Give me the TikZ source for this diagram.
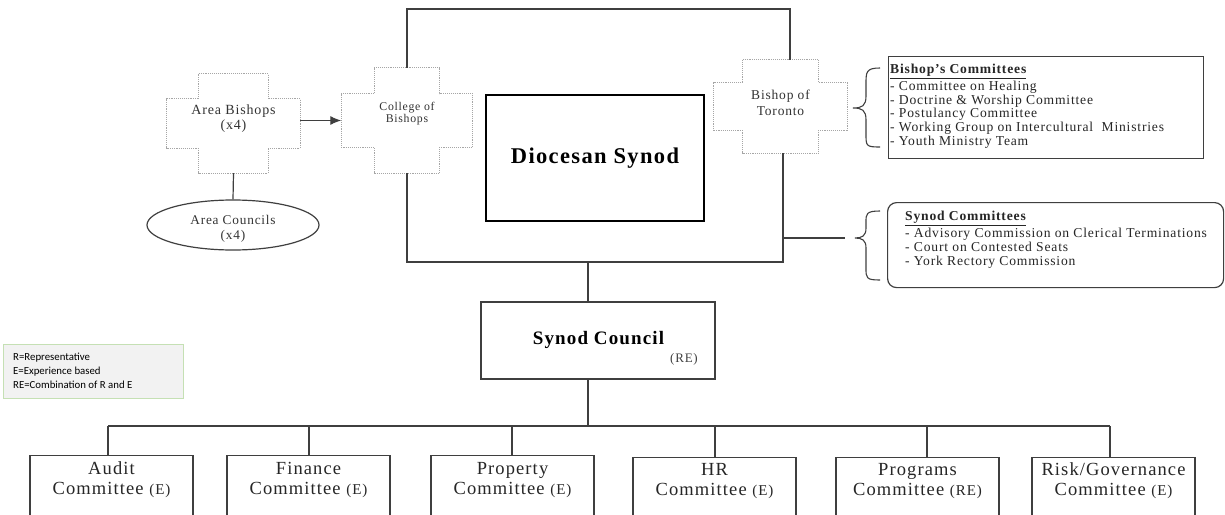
\documentclass[tikz,border=0pt]{standalone}
\usepackage{fontspec}
\setmainfont{Liberation Serif}[LetterSpace=6]
\newfontfamily\legendfont{Carlito}
\usetikzlibrary{calc,arrows.meta,shapes.geometric}
\definecolor{linec}{HTML}{3F3F3F}
\definecolor{dotc}{HTML}{A6A6A6}
\definecolor{legfill}{HTML}{F2F2F2}
\definecolor{legline}{HTML}{C5E0B4}
\newcommand{\drawcross}[3]{%
 \draw[crossline] ([xshift=#2]#1.north west) -- ([xshift=-#2]#1.north east) -- ([xshift=-#2,yshift=-#3]#1.north east) -- ([yshift=-#3]#1.north east) -- ([yshift=#3]#1.south east) -- ([xshift=-#2,yshift=#3]#1.south east) -- ([xshift=-#2]#1.south east) -- ([xshift=#2]#1.south west) -- ([xshift=#2,yshift=#3]#1.south west) -- ([yshift=#3]#1.south west) -- ([yshift=-#3]#1.north west) -- ([xshift=#2,yshift=-#3]#1.north west) -- cycle;}
\tikzset{
 conn/.style={draw=linec, line width=1.2pt},
 crossline/.style={draw=dotc, densely dotted, line width=0.9pt},
 crossbox/.style={rectangle, inner sep=0pt},
 crosstext/.style={align=center, text=black!80, font=\fontsize{14}{15}\selectfont},
 cbox/.style={draw=linec, line width=1.2pt, rectangle, minimum width=163pt, minimum height=80pt, anchor=north, inner sep=0pt},
 ctext/.style={align=center, text=black!85, font=\fontsize{18.5}{20}\selectfont},
 listbox/.style={draw=linec, line width=1.2pt, rectangle, anchor=north west, inner sep=0pt},
 listtext/.style={anchor=north west, align=left, text=black!85, inner sep=0pt, font=\fontsize{13.6}{13.7}\selectfont},
}
\begin{document}
\begin{tikzpicture}[x=1pt,y=-1pt]
\useasboundingbox (0,0) rectangle (1225,514);
\clip (0,0) rectangle (1225,514);
\fill[white] (0,0) rectangle (1225,514);
% crosses
\node[crossbox, minimum width=133pt, minimum height=99pt] (ab) at (233.5,123.5) {};
\drawcross{ab}{32pt}{25pt}
\node[crosstext] (abt) at (233.5,119) {Area Bishops\\(x4)};
\node[crossbox, minimum width=131pt, minimum height=105pt] (col) at (407,120.5) {};
\drawcross{col}{33pt}{26pt}
\node[crosstext, font=\fontsize{11.8}{12}\selectfont] (colt) at (407,114) {College of\\Bishops};
\node[crossbox, minimum width=133pt, minimum height=93pt] (bt) at (780.5,106.5) {};
\drawcross{bt}{29pt}{23pt}
\node[crosstext, font=\fontsize{13.5}{15.5}\selectfont] (btt) at (780.5,103) {Bishop of\\Toronto};
% ellipse
\node[ellipse, draw=linec, line width=1.2pt, minimum width=172pt, minimum height=50pt, inner sep=0pt] (ac) at (233,225) {};
\node[crosstext, font=\fontsize{13.3}{15}\selectfont] (act) at (233,229) {Area Councils\\(x4)};
% Diocesan Synod
\node[draw=black, line width=2.4pt, minimum width=218pt, minimum height=126pt, inner sep=0pt, font=\fontsize{22.5}{26}\bfseries] (ds) at (595,158) {Diocesan Synod};
% Synod Council
\node[draw=linec, line width=1.2pt, minimum width=234pt, minimum height=77pt, inner sep=0pt] (sc) at (598,340.5) {};
\node[font=\fontsize{19}{20}\bfseries] (sct) at (598.5,340) {Synod Council};
\node[font=\fontsize{13}{14}\selectfont, text=black!75] (scr) at (684,359) {(RE)};
% frame connectors
\coordinate (ftop) at (0,9);
\coordinate (fbot) at (0,262);
\coordinate (ctline) at (0,238);
\draw[conn] (col.north) -- (col.north |- ftop) -| ([xshift=9.5pt]bt.north);
\draw[conn] (col.south) -- (col.south |- fbot) -| ([xshift=2.5pt]bt.south);
\draw[conn, -{Latex[length=11pt,width=9pt]}] (ab.east |- col.west) -- (col.west);
\draw[conn] (ab.south) -- (ac.north);
% committees lists
\node[listbox, minimum width=315pt, minimum height=102pt] (bc) at (888,56) {};
\node[listtext] (bct) at (890,64) {\textbf{\underline{Bishop’s Committees}}\\[1.5pt]- Committee on Healing\\- Doctrine \& Worship Committee\\- Postulancy Committee\\- Working Group on Intercultural\ \ Ministries\\- Youth Ministry Team};
\node[listbox, rounded corners=9pt, minimum width=336pt, minimum height=85pt] (scm) at (887,202) {};
\node[listtext, font=\fontsize{13.6}{14.2}\selectfont] (scmt) at (905,211) {\textbf{\underline{Synod Committees}}\\[1.5pt]- Advisory Commission on Clerical Terminations\\- Court on Contested Seats\\- York Rectory Commission};
% braces
\coordinate (b1tip) at (853,108);
\coordinate (b2tip) at (855,238);
\draw[conn, line width=1.1pt] (880,68) .. controls (866,68) and (866,72) .. (866,84) -- (866,96) .. controls (866,106) and (862,108) .. (b1tip) .. controls (862,108) and (866,110) .. (866,120) -- (866,134) .. controls (866,146) and (866,147) .. (880,147);
\draw[conn, line width=1.1pt] (880,211) .. controls (866,211) and (866,214) .. (866,222) -- (866,228) .. controls (866,236) and (862,238) .. (b2tip) .. controls (862,238) and (866,240) .. (866,248) -- (866,268) .. controls (866,278) and (866,280) .. (880,280);
\draw[conn] ([xshift=2.5pt]bt.south |- ctline) -- ([xshift=-10pt]b2tip);
% Synod Council connectors
\draw[conn] ([xshift=-10pt]sc.north) -- ([xshift=-10pt]sc.north |- fbot);
\coordinate (bus) at (0,426);
% bottom committees
\node[cbox] (aud) at (111.5,455) {};
\node[ctext] (audt) at (111.5,480) {Audit\\Committee {\fontsize{15}{20}\selectfont(E)}};
\node[cbox] (fin) at (308.5,455) {};
\node[ctext] (fint) at (308.5,480) {Finance\\Committee {\fontsize{15}{20}\selectfont(E)}};
\node[cbox] (prop) at (512.5,455) {};
\node[ctext] (propt) at (512.5,480) {Property\\Committee {\fontsize{15}{20}\selectfont(E)}};
\node[cbox] (hr) at (714.5,457) {};
\node[ctext] (hrt) at (714.5,481) {HR\\Committee {\fontsize{15}{20}\selectfont(E)}};
\node[cbox] (prog) at (917.5,457) {};
\node[ctext] (progt) at (917.5,481) {Programs\\Committee {\fontsize{15}{20}\selectfont(RE)}};
\node[cbox] (risk) at (1113.5,457) {};
\node[ctext] (riskt) at (1113.5,481) {Risk/Governance\\Committee {\fontsize{15}{20}\selectfont(E)}};
\draw[conn] ([xshift=-10pt]sc.south) -- ([xshift=-10pt]sc.south |- bus);
\draw[conn] ([xshift=-3.5pt]aud.north |- bus) -- ([xshift=-3.5pt]risk.north |- bus);
\draw[conn] ([xshift=-3.5pt]aud.north) -- ([xshift=-3.5pt]aud.north |- bus);
\draw[conn] ([xshift=0.5pt]fin.north) -- ([xshift=0.5pt]fin.north |- bus);
\draw[conn] ([xshift=-0.5pt]prop.north) -- ([xshift=-0.5pt]prop.north |- bus);
\draw[conn] ([xshift=0.5pt]hr.north) -- ([xshift=0.5pt]hr.north |- bus);
\draw[conn] ([xshift=9.5pt]prog.north) -- ([xshift=9.5pt]prog.north |- bus);
\draw[conn] ([xshift=-3.5pt]risk.north) -- ([xshift=-3.5pt]risk.north |- bus);
% legend
\node[draw=legline, fill=legfill, line width=1pt, minimum width=180pt, minimum height=54pt, inner sep=0pt] (leg) at (93,371) {};
\node[anchor=west, align=left, inner sep=0pt, font=\legendfont\fontsize{10.8}{14}\selectfont] (legt) at (13,371) {R=Representative\\E=Experience based\\RE=Combination of R and E};
\end{tikzpicture}
\end{document}
